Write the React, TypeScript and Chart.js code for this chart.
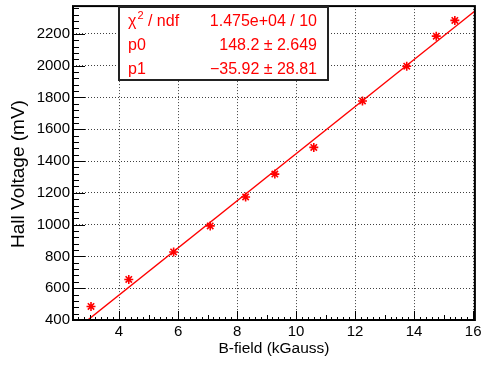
import React, { useEffect, useRef } from "react";
import { Chart, registerables } from "chart.js";

Chart.register(...registerables);

// ---- data ----
const bField = [3.05, 4.33, 5.85, 7.09, 8.29, 9.28, 10.6, 12.25, 13.75, 14.75, 15.38];
const hallVoltage = [485, 655, 828, 992, 1174, 1318, 1486, 1778, 1997, 2186, 2285];

// fit parameters (pol1: y = p1 + p0 * x as shown in stats box)
const fitP0 = 148.2;
const fitP1 = -35.92;
const fitRangeX = [2.44, 16.06];

const xMin = 2.44;
const xMax = 16.06;
const yMin = 400;
const yMax = 2375;

const xTickValues = [4, 6, 8, 10, 12, 14, 16];
const yTickValues = [400, 600, 800, 1000, 1200, 1400, 1600, 1800, 2000, 2200];

const statsNames = ["p0", "p1"];
const statsValues = ["1.475e+04 / 10", "148.2 \u00b1 2.649", "\u221235.92 \u00b1 28.81"];

const xTitle = "B-field (kGauss)";
const yTitle = "Hall Voltage (mV)";

const FONT = "'Liberation Sans', Arial, Helvetica, sans-serif";
const RED = "#ff0000";

const framePlugin = {
  id: "rootFrame",
  afterDatasetsDraw(chart: any) {
    const { ctx, chartArea } = chart;
    const xs = chart.scales.x;
    const ys = chart.scales.y;
    const { left, right, top, bottom } = chartArea;
    ctx.save();
    ctx.strokeStyle = "#000";
    ctx.lineWidth = 1;
    ctx.beginPath();
    // x ticks (inward)
    for (let k = Math.ceil(xMin * 5); k <= Math.floor(xMax * 5 + 1e-6); k++) {
      const px = Math.round(xs.getPixelForValue(k / 5)) + 0.5;
      const len = k % 10 === 0 ? 9 : k % 5 === 0 ? 5 : 3;
      ctx.moveTo(px, bottom);
      ctx.lineTo(px, bottom - len);
    }
    // y ticks (inward)
    for (let k = Math.ceil(yMin / 40); k <= Math.floor(yMax / 40); k++) {
      const py = Math.round(ys.getPixelForValue(k * 40)) + 0.5;
      const len = k % 5 === 0 ? 12 : 6;
      ctx.moveTo(left, py);
      ctx.lineTo(left + len, py);
    }
    ctx.stroke();
    ctx.lineWidth = 2;
    ctx.strokeRect(left, top, right - left, bottom - top);
    ctx.restore();
  },
};

const yTitlePlugin = {
  id: "yTitle",
  afterDraw(chart: any) {
    const { ctx } = chart;
    ctx.save();
    ctx.font = `19px ${FONT}`;
    ctx.fillStyle = "#000";
    ctx.textBaseline = "middle";
    ctx.textAlign = "center";
    ctx.translate(19, 174);
    ctx.rotate(-Math.PI / 2);
    ctx.fillText(yTitle, 0, 0);
    ctx.restore();
  },
};

const statsPlugin = {
  id: "statsBox",
  afterDraw(chart: any) {
    const { ctx } = chart;
    const bx = 119, by = 7, bw = 209, bh = 73;
    ctx.save();
    ctx.fillStyle = "#fff";
    ctx.fillRect(bx, by, bw, bh);
    ctx.strokeStyle = "#222";
    ctx.lineWidth = 2;
    ctx.strokeRect(bx, by, bw, bh);

    ctx.fillStyle = RED;
    ctx.textBaseline = "alphabetic";
    const baselines = [26, 49.5, 74];
    const nameX = 128;
    const valX = 317;
    // row 1: chi^2 / ndf
    ctx.font = `16px ${FONT}`;
    ctx.textAlign = "left";
    ctx.fillText("\u03c7", nameX, baselines[0]);
    const chiW = ctx.measureText("\u03c7").width;
    ctx.font = `11px ${FONT}`;
    ctx.fillText("2", nameX + chiW + 1, baselines[0] - 7);
    const twoW = ctx.measureText("2").width;
    ctx.font = `16px ${FONT}`;
    ctx.fillText(" / ndf", nameX + chiW + 1 + twoW, baselines[0]);
    statsNames.forEach((n, i) => ctx.fillText(n, nameX, baselines[i + 1]));
    ctx.textAlign = "right";
    statsValues.forEach((v, i) => ctx.fillText(v, valX, baselines[i]));
    ctx.restore();
  },
};

export default function App() {
  const canvasRef = useRef<HTMLCanvasElement | null>(null);

  useEffect(() => {
    if (!canvasRef.current) return;
    const chart = new Chart(canvasRef.current, {
      type: "scatter",
      data: {
        datasets: [
          {
            type: "line",
            data: fitRangeX.map((x) => ({ x, y: fitP1 + fitP0 * x })),
            borderColor: RED,
            borderWidth: 1.4,
            pointRadius: 0,
            fill: false,
            clip: 0,
          } as any,
          {
            type: "scatter",
            data: bField.map((x, i) => ({ x, y: hallVoltage[i] })),
            pointStyle: "star",
            pointRadius: 4.5,
            pointBorderColor: RED,
            pointBackgroundColor: RED,
            pointBorderWidth: 1.6,
            borderColor: RED,
          } as any,
        ],
      },
      options: {
        animation: false,
        responsive: false,
        layout: { padding: { top: 2, right: 6, left: 0, bottom: 0 } },
        plugins: { legend: { display: false }, tooltip: { enabled: false } },
        scales: {
          x: {
            type: "linear",
            min: xMin,
            max: xMax,
            afterBuildTicks: (s: any) => {
              s.ticks = xTickValues.map((v) => ({ value: v }));
            },
            afterFit: (s: any) => {
              s.height = 47;
              s.paddingLeft = 0;
              s.paddingRight = 0;
            },
            grid: { color: "rgba(0,0,0,0.75)", lineWidth: 1, drawTicks: false },
            border: { display: false, dash: [1, 2] },
            ticks: {
              padding: 3,
              color: "#000",
              maxRotation: 0,
              autoSkip: false,
              font: { family: FONT, size: 15 },
              callback: (v: any) => String(v),
            },
            title: {
              display: true,
              text: xTitle,
              color: "#000",
              font: { family: FONT, size: 15.5 },
              padding: { top: 0, bottom: 9 },
            },
          },
          y: {
            type: "linear",
            min: yMin,
            max: yMax,
            afterBuildTicks: (s: any) => {
              s.ticks = yTickValues.map((v) => ({ value: v }));
            },
            afterFit: (s: any) => {
              s.width = 73;
              s.paddingTop = 0;
              s.paddingBottom = 0;
            },
            grid: { color: "rgba(0,0,0,0.75)", lineWidth: 1, drawTicks: false },
            border: { display: false, dash: [1, 2] },
            ticks: {
              padding: 3,
              color: "#000",
              autoSkip: false,
              font: { family: FONT, size: 15 },
              callback: (v: any) => String(v),
            },
            title: { display: false },
          },
        },
      },
      plugins: [framePlugin, statsPlugin, yTitlePlugin],
    });
    return () => chart.destroy();
  }, []);

  return (
    <div style={{ position: "absolute", left: 0, top: 0, width: 481, height: 367, background: "#fff" }}>
      <canvas ref={canvasRef} width={481} height={367} style={{ width: 481, height: 367, display: "block" }} />
    </div>
  );
}
